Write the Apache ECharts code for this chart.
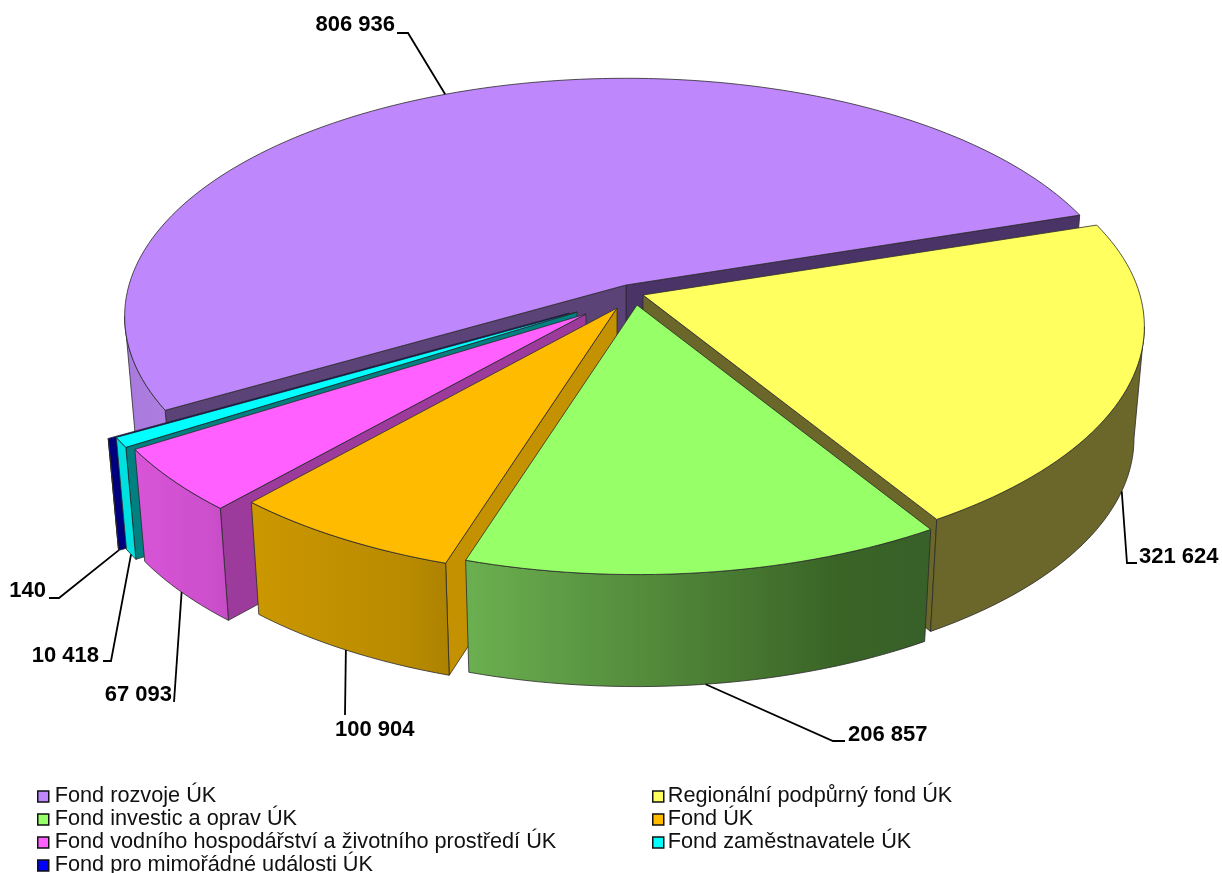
<!DOCTYPE html>
<html><head><meta charset="utf-8">
<style>html,body{margin:0;padding:0;background:#fff}#c{width:1222px;height:873px}</style>
<script src="https://cdn.jsdelivr.net/npm/echarts@6/dist/echarts.min.js"></script>
</head><body><div id="c"></div>
<script>
// --- data ---
const categories = ['Fond rozvoje ÚK','Regionální podpůrný fond ÚK','Fond investic a oprav ÚK','Fond ÚK','Fond vodního hospodářství a životního prostředí ÚK','Fond zaměstnavatele ÚK','Fond pro mimořádné události ÚK'];
const values = [806936,321624,206857,100904,67093,10418,140];

// --- projection of the pie disc (perspective) ---
const CX=625, CY=285, R=497, K=234, P=0.132, DEPTH=112, BOTTOM_SCALE=0.98, START=150;
// --- per-slice styling ---
const tops  = ['#BF87FC','#FFFF5F','#97FF67','#FFBB00','#FF60FF','#00FFFF','#0000FF'];
const sideA = ['#A97ADD','#6B672A','#6BB050','#CC9800','#D854D8','#00E0E0','#00007F'];
const sideM = ['#AD7DE0','#6B672A','#3A6426','#B88A00','#CC4FCC','#00E0E0','#00007F'];
const sideB = ['#B080E4','#6B672A','#38602A','#AD8200','#C64CC6','#00E0E0','#00007F'];
const cutS  = ['#5C4377','#6B672A','#4F8A3A','#C49200','#9C3B9C','#008080','#00007F'];
const cutE  = ['#4A3366','#6B672A','#4F8A3A','#C49200','#9C3B9C','#008080','#00007F'];
const explode = [[1,0],[18,10],[12,20],[-8,23],[-39,29],[-48,27],[-56,28]];
const paintOrder = [0,1,6,5,4,3,2];
// --- label layout: leader elbow points, then text anchor ---
const leaders = [
 {onTop:true, via:[[408,33],[397,33]], at:[395,25], align:'right'},
 {via:[[1127,563],[1137,563]], at:[1139,557], align:'left'},
 {via:[[833,741],[845,741]], at:[848,735], align:'left'},
 {via:[[345,715]], at:[335,730], align:'left'},
 {via:[[174,702]], at:[172,695], align:'right'},
 {via:[[111,661],[103,661]], at:[99,656], align:'right'},
 {via:[[59,598],[49,598]], at:[46,591], align:'right'}
];

const total = values.reduce((a,b)=>a+b,0);
const spans = []; { let a=START; values.forEach(v=>{const b=a+v/total*360; const w=b>360?360:0; spans.push([a-w,b-w]); a=b;}); }
const rad = d=>d*Math.PI/180;
function disc(u,v){const s=1/(1-P*v);return [CX+R*u*s, CY+K*v*s];}
function topPt(i,deg){const p=disc(Math.cos(rad(deg)),Math.sin(rad(deg)));return [p[0]+explode[i][0],p[1]+explode[i][1]];}
function apex(i){return [CX+explode[i][0],CY+explode[i][1]];}
function down(p){return [CX+(p[0]-CX)*BOTTOM_SCALE,p[1]+DEPTH];}
function arc(i,a,b){const n=Math.max(2,Math.ceil(Math.abs(b-a)/1.5));const r=[];for(let k=0;k<=n;k++)r.push(topPt(i,a+(b-a)*k/n));return r;}
const fmt = v=>String(v).replace(/\B(?=(\d{3})+(?!\d))/g,' ');
const LINE={stroke:'#2a2a2a',lineWidth:0.8};
function poly(points,fill){return {type:'polygon',silent:true,shape:{points},style:Object.assign({fill},LINE)};}
function render(i){
  const [a,b]=spans[i]; const kids=[];
  const face=(deg,col)=>{const t=topPt(i,deg),ap=apex(i);kids.push(poly([ap,t,down(t),down(ap)],col));};
  if(Math.cos(rad(b))>0) face(b,cutE[i]);
  if(Math.cos(rad(a))<0) face(a,cutS[i]);
  // outer wall: only the part that faces the viewer
  const silhouette=Math.asin(P)*180/Math.PI;
  const lo=Math.max(a,silhouette), hi=Math.min(b,180-silhouette);
  if(hi>lo){
    const top=arc(i,lo,hi); const pts=top.concat(top.map(down).reverse());
    kids.push(poly(pts,new echarts.graphic.LinearGradient(0,0,1,0,[{offset:0,color:sideA[i]},{offset:0.8,color:sideM[i]},{offset:1,color:sideB[i]}])));
  }
  if(b-a>0.2) kids.push(poly([apex(i)].concat(arc(i,a,b)),tops[i]));
  return {type:'group',children:kids};
}
function renderLabel(i){
  const mid=(spans[i][0]+spans[i][1])/2, l=leaders[i];
  const t=topPt(i,mid); const start=l.onTop?t:down(t);
  return {type:'group',children:[
    {type:'polyline',silent:true,shape:{points:[start].concat(l.via)},style:{stroke:'#000',lineWidth:1.8,fill:null}},
    {type:'text',silent:true,style:{x:l.at[0],y:l.at[1],text:fmt(values[i]),fill:'#000',
      font:'bold 22px "Liberation Sans"',align:l.align,verticalAlign:'middle',textAlign:l.align,textVerticalAlign:'middle'}}
  ]};
}
const series = paintOrder.map(i=>({
  type:'custom',name:categories[i],coordinateSystem:'none',data:[[values[i]]],silent:true,
  itemStyle:{color:tops[i],borderColor:'#111',borderWidth:1.5},
  renderItem:()=>render(i),z:2+paintOrder.indexOf(i)
}));
series.push({type:'custom',name:'labels',coordinateSystem:'none',data:values.map((v,i)=>[i,v]),silent:true,z:20,
  renderItem:(p,api)=>renderLabel(api.value(0))});
const legendBase={orient:'vertical',icon:'rect',itemWidth:11,itemHeight:11,itemGap:0,selectedMode:false,padding:0,height:95,
  itemStyle:{borderColor:'#111',borderWidth:1.5}};
const legendText=pad=>({fontFamily:'Liberation Sans',fontSize:21.7,color:'#111',padding:[0,0,0,pad],lineHeight:23,height:23});
const chart=echarts.init(document.getElementById('c'),null,{renderer:'canvas'});
chart.setOption({animation:false,backgroundColor:'#fff',
  legend:[
    Object.assign({},legendBase,{left:37,top:785,textStyle:legendText(1),data:[0,2,4,6].map(i=>categories[i])}),
    Object.assign({},legendBase,{left:652,top:785,textStyle:legendText(-1),data:[1,3,5].map(i=>categories[i])})
  ],
  series});
</script></body></html>
